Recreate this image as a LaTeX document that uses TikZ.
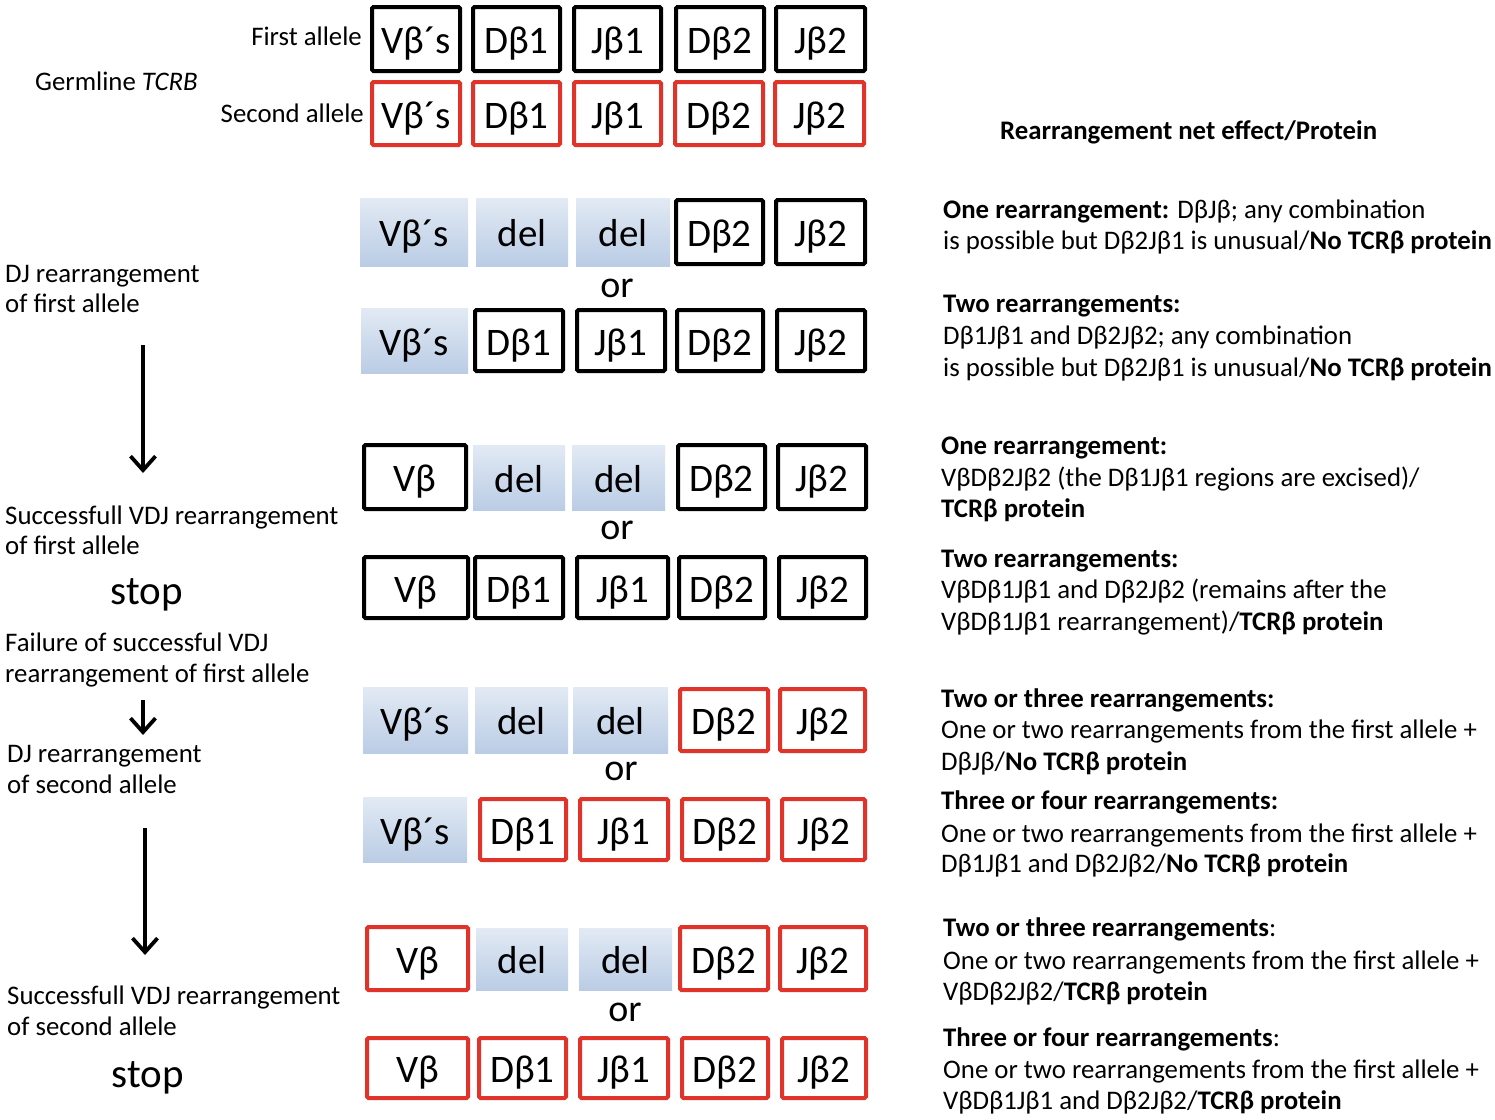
\documentclass[tikz,border=0pt]{standalone}
\usepackage{fontspec}
\setmainfont{Carlito}
\usetikzlibrary{arrows.meta}
\definecolor{rd}{RGB}{224,52,43}
\definecolor{gtop}{RGB}{226,234,244}
\definecolor{gmid}{RGB}{234,240,248}
\definecolor{gbot}{RGB}{186,204,229}
\tikzset{
  boxfont/.style={font=\fontsize{39}{42}\selectfont, text height=31pt, text depth=2pt, inner sep=0pt},
  blk/.style={boxfont, draw=black, line width=4pt, rounded corners=1.5pt, fill=white},
  red/.style={boxfont, draw=rd, line width=4pt, rounded corners=1.5pt, fill=white},
  grd/.style={boxfont, top color=gtop, middle color=gmid, bottom color=gbot, draw=none},
  txt/.style={font=\fontsize{26.8}{31}\selectfont, anchor=base west, inner sep=0pt},
  txte/.style={font=\fontsize{26.8}{31}\selectfont, anchor=base east, inner sep=0pt},
  stopfont/.style={font=\fontsize{41}{44}\selectfont, anchor=base, inner sep=0pt},
  orfont/.style={font=\fontsize{38}{40}\selectfont, inner sep=0pt},
  arr/.style={line width=3.8pt, -{Straight Barb[length=14pt,width=25pt]}}
}
% outlined box: name, x1, y1, x2, y2, style, text
\newcommand\obox[7]{\node[#6, minimum width={#4-#2-4}, minimum height={#5-#3-4}] (#1) at ({(#2+#4)/2},{(#3+#5)/2}) {#7};}
% gradient box
\newcommand\gbox[6]{\node[grd, minimum width={#4-#2}, minimum height={#5-#3}] (#1) at ({(#2+#4)/2},{(#3+#5)/2}) {#6};}
\begin{document}
\begin{tikzpicture}[x=1pt,y=-1pt]
\useasboundingbox[fill=white] (0,0) rectangle (1495,1119);

% Row 1
\obox{r1c1}{370}{5}{462}{73}{blk}{Vβ´s}
\obox{r1c2}{471}{5}{562}{73}{blk}{Dβ1}
\obox{r1c3}{572}{5}{663}{73}{blk}{Jβ1}
\obox{r1c4}{674}{5}{766}{73}{blk}{Dβ2}
\obox{r1c5}{774}{5}{867}{73}{blk}{Jβ2}
% Row 2
\obox{r2c1}{370}{80}{462}{147}{red}{Vβ´s}
\obox{r2c2}{471}{80}{562}{147}{red}{Dβ1}
\obox{r2c3}{572}{80}{663}{147}{red}{Jβ1}
\obox{r2c4}{673}{80}{765}{147}{red}{Dβ2}
\obox{r2c5}{773}{80}{866}{147}{red}{Jβ2}
% Row 3
\gbox{r3c1}{360}{198}{468}{266}{Vβ´s}
\gbox{r3c2}{476}{198}{568}{266}{del}
\gbox{r3c3}{576}{198}{670}{266}{del}
\obox{r3c4}{674}{198}{765}{266}{blk}{Dβ2}
\obox{r3c5}{774}{198}{867}{266}{blk}{Jβ2}
\node[orfont] (or1) at (617,288) {or};
% Row 4
\gbox{r4c1}{361}{308}{468}{373}{Vβ´s}
\obox{r4c2}{473}{308}{565}{373}{blk}{Dβ1}
\obox{r4c3}{575}{308}{667}{373}{blk}{Jβ1}
\obox{r4c4}{675}{308}{765}{373}{blk}{Dβ2}
\obox{r4c5}{775}{308}{867}{373}{blk}{Jβ2}
% Row 5
\obox{r5c1}{362}{443}{468}{511}{blk}{Vβ}
\gbox{r5c2}{473}{445}{565}{510}{del}
\gbox{r5c3}{572}{445}{665}{510}{del}
\obox{r5c4}{676}{443}{767}{511}{blk}{Dβ2}
\obox{r5c5}{776}{443}{868}{511}{blk}{Jβ2}
\node[orfont] (or2) at (617,530) {or};
% Row 6
\obox{r6c1}{362}{555}{470}{620}{blk}{Vβ}
\obox{r6c2}{473}{555}{565}{620}{blk}{Dβ1}
\obox{r6c3}{575}{555}{670}{620}{blk}{Jβ1}
\obox{r6c4}{677}{555}{767}{620}{blk}{Dβ2}
\obox{r6c5}{777}{555}{868}{620}{blk}{Jβ2}
% Row 7
\gbox{r7c1}{363}{687}{468}{753}{Vβ´s}
\gbox{r7c2}{475}{687}{568}{753}{del}
\gbox{r7c3}{573}{687}{668}{753}{del}
\obox{r7c4}{678}{687}{770}{753}{red}{Dβ2}
\obox{r7c5}{778}{687}{867}{753}{red}{Jβ2}
\node[orfont] (or3) at (621,771) {or};
% Row 8
\gbox{r8c1}{363}{797}{467}{862}{Vβ´s}
\obox{r8c2}{478}{797}{568}{862}{red}{Dβ1}
\obox{r8c3}{578}{797}{670}{862}{red}{Jβ1}
\obox{r8c4}{680}{797}{770}{862}{red}{Dβ2}
\obox{r8c5}{780}{797}{867}{862}{red}{Jβ2}
% Row 9
\obox{r9c1}{365}{925}{470}{992}{red}{Vβ}
\gbox{r9c2}{476}{928}{568}{990}{del}
\gbox{r9c3}{579}{928}{672}{990}{del}
\obox{r9c4}{678}{925}{770}{992}{red}{Dβ2}
\obox{r9c5}{778}{925}{868}{992}{red}{Jβ2}
\node[orfont] (or4) at (625,1012) {or};
% Row 10
\obox{r10c1}{365}{1036}{470}{1100}{red}{Vβ}
\obox{r10c2}{477}{1036}{568}{1100}{red}{Dβ1}
\obox{r10c3}{578}{1036}{670}{1100}{red}{Jβ1}
\obox{r10c4}{680}{1036}{770}{1100}{red}{Dβ2}
\obox{r10c5}{780}{1036}{868}{1100}{red}{Jβ2}

% Left labels
\node[txte] (first) at (362,45) {First allele};
\node[txt] (germ) at (35,90) {Germline \textit{TCRB}};
\node[txte] (second) at (364,122) {Second allele};
\node[txt] (l1a) at (5,282) {DJ rearrangement};
\node[txt] (l1b) at (5,312) {of first allele};
\node[txt] (l2a) at (5,524) {Successfull VDJ rearrangement};
\node[txt] (l2b) at (5,554) {of first allele};
\node[stopfont] (stop1) at (147,604) {stop};
\node[txt] (l3a) at (5,651) {Failure of successful VDJ};
\node[txt] (l3b) at (5,682) {rearrangement of first allele};
\node[txt] (l4a) at (7,762) {DJ rearrangement};
\node[txt] (l4b) at (7,793) {of second allele};
\node[txt] (l5a) at (7,1004) {Successfull VDJ rearrangement};
\node[txt] (l5b) at (7,1035) {of second allele};
\node[stopfont] (stop2) at (148,1087) {stop};

% Arrows
\coordinate (a1s) at (143,345); \coordinate (a1e) at (143,473);
\coordinate (a2s) at (143,700); \coordinate (a2e) at (143,735);
\coordinate (a3s) at (145,828); \coordinate (a3e) at (145,955);
\draw[arr] (a1s) -- (a1e);
\draw[arr] (a2s) -- (a2e);
\draw[arr] (a3s) -- (a3e);

% Right column
\node[txt] (head) at (1000,139) {\textbf{Rearrangement net effect/Protein}};
\node[txt] (t1a) at (943,218) {\textbf{One rearrangement:} DβJβ; any combination};
\node[txt] (t1b) at (943,249) {is possible but Dβ2Jβ1 is unusual/\textbf{No TCRβ protein}};
\node[txt] (t2a) at (943,312) {\textbf{Two rearrangements:}};
\node[txt] (t2b) at (943,344) {Dβ1Jβ1 and Dβ2Jβ2; any combination};
\node[txt] (t2c) at (943,376) {is possible but Dβ2Jβ1 is unusual/\textbf{No TCRβ protein}};
\node[txt] (t3a) at (941,454) {\textbf{One rearrangement:}};
\node[txt] (t3b) at (941,486) {VβDβ2Jβ2 (the Dβ1Jβ1 regions are excised)/};
\node[txt] (t3c) at (941,517) {\textbf{TCRβ protein}};
\node[txt] (t4a) at (941,567) {\textbf{Two rearrangements:}};
\node[txt] (t4b) at (941,598) {VβDβ1Jβ1 and Dβ2Jβ2 (remains after the};
\node[txt] (t4c) at (941,630) {VβDβ1Jβ1 rearrangement)/\textbf{TCRβ protein}};
\node[txt] (t5a) at (941,707) {\textbf{Two or three rearrangements:}};
\node[txt] (t5b) at (941,738) {One or two rearrangements from the first allele +};
\node[txt] (t5c) at (941,770) {DβJβ/\textbf{No TCRβ protein}};
\node[txt] (t6a) at (941,809) {\textbf{Three or four rearrangements:}};
\node[txt] (t6b) at (941,842) {One or two rearrangements from the first allele +};
\node[txt] (t6c) at (941,872) {Dβ1Jβ1 and Dβ2Jβ2/\textbf{No TCRβ protein}};
\node[txt] (t7a) at (943,936) {\textbf{Two or three rearrangements}:};
\node[txt] (t7b) at (943,969) {One or two rearrangements from the first allele +};
\node[txt] (t7c) at (943,1000) {VβDβ2Jβ2/\textbf{TCRβ protein}};
\node[txt] (t8a) at (943,1046) {\textbf{Three or four rearrangements}:};
\node[txt] (t8b) at (943,1078) {One or two rearrangements from the first allele +};
\node[txt] (t8c) at (943,1109) {VβDβ1Jβ1 and Dβ2Jβ2/\textbf{TCRβ protein}};
\end{tikzpicture}
\end{document}
